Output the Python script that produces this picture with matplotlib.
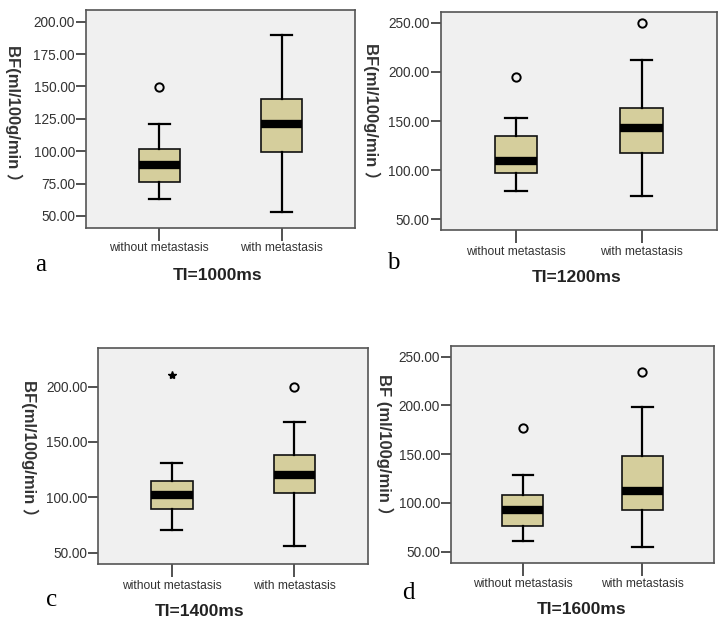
import matplotlib
matplotlib.use("Agg")
import matplotlib.pyplot as plt

plt.rcParams['font.family'] = ['Liberation Sans', 'DejaVu Sans']

W, H = 719, 620

groups = ["without metastasis", "with metastasis"]
panel_letters = ["a", "b", "c", "d"]
panel_titles = ["TI=1000ms", "TI=1200ms", "TI=1400ms", "TI=1600ms"]
y_labels = ["BF(ml/100g/min ）", "BF(ml/100g/min ）",
            "BF(ml/100g/min ）", "BF (ml/100g/min ）"]

# (whisker low, Q1, median, Q3, whisker high) for without / with
stats_a = [(62.9, 76.3, 89.6, 101.7, 120.8), (52.8, 99.1, 121.3, 140.0, 189.5)]
stats_b = [(78.8, 96.8, 109.7, 134.4, 153.1), (73.4, 117.1, 142.9, 163.6, 212.0)]
stats_c = [(70.5, 89.5, 101.8, 114.8, 131.3), (56.3, 104.2, 119.9, 138.3, 168.1)]
stats_d = [(61.3, 76.0, 93.1, 108.5, 128.6), (54.4, 92.4, 111.9, 148.5, 198.0)]

# outliers: (group index, value, marker)
outliers_a = [(0, 149.8, "o")]
outliers_b = [(0, 195.1, "o"), (1, 250.0, "o")]
outliers_c = [(0, 210.5, "*"), (1, 200.0, "o")]
outliers_d = [(0, 176.8, "o"), (1, 233.9, "o")]

y_ticks_a = [50, 75, 100, 125, 150, 175, 200]
y_ticks_b = [50, 100, 150, 200, 250]
y_ticks_c = [50, 100, 150, 200]
y_ticks_d = [50, 100, 150, 200, 250]

panels = [
    dict(stats=stats_a, out=outliers_a, ticks=y_ticks_a, ylim=(40.7, 209.0),
         box=(86, 10, 355, 228), ylab=(14, 117), letter=(41, 265), title=(218, 275), xt=248),
    dict(stats=stats_b, out=outliers_b, ticks=y_ticks_b, ylim=(39.2, 261.2),
         box=(440.7, 11.7, 717, 230), ylab=(372, 115), letter=(393, 263), title=(577, 278), xt=252),
    dict(stats=stats_c, out=outliers_c, ticks=y_ticks_c, ylim=(39.5, 235.2),
         box=(98.3, 347.7, 368, 564.3), ylab=(30, 452), letter=(52, 600), title=(200, 612), xt=586),
    dict(stats=stats_d, out=outliers_d, ticks=y_ticks_d, ylim=(38.7, 260.9),
         box=(451, 346, 714.3, 562.7), ylab=(385, 449), letter=(408, 593), title=(582, 610), xt=584),
]

fig = plt.figure(figsize=(W / 100, H / 100), dpi=100)
fig.patch.set_facecolor("white")

for i, p in enumerate(panels):
    x0, y0, x1, y1 = p["box"]
    ax = fig.add_axes([x0 / W, 1 - y1 / H, (x1 - x0) / W, (y1 - y0) / H])
    ax.set_facecolor("#f0f0f0")

    bxp = []
    for s in p["stats"]:
        bxp.append(dict(whislo=s[0], q1=s[1], med=s[2], q3=s[3], whishi=s[4], fliers=[]))
    ax.bxp(bxp, positions=[1, 2], widths=0.34, patch_artist=True, showfliers=False,
           boxprops=dict(facecolor="#d5ce9c", edgecolor="#111111", linewidth=1.2),
           medianprops=dict(color="black", linewidth=6, solid_capstyle="butt"),
           whiskerprops=dict(color="black", linewidth=1.6),
           capprops=dict(color="black", linewidth=1.6),
           capwidths=0.17)

    for g, v, m in p["out"]:
        if m == "o":
            ax.plot(g + 1, v, marker="o", ms=6, mfc="none", mec="black", mew=1.4)
        else:
            ax.plot(g + 1, v, marker="*", ms=6, color="black")

    ax.set_xlim(0.4, 2.6)
    ax.set_ylim(*p["ylim"])
    ax.set_yticks(p["ticks"])
    ax.set_yticklabels([f"{t:.2f}" for t in p["ticks"]], fontsize=9.8, color="#333333")
    ax.set_xticks([1, 2])
    ax.set_xticklabels([])
    ax.tick_params(axis="y", length=7, width=1.2, color="#333333", pad=1)
    ax.tick_params(axis="x", length=9, width=1.2, color="#333333")
    for sp in ax.spines.values():
        sp.set_color("#555555")
        sp.set_linewidth(1.2)

    # category labels under the ticks
    for k, name in enumerate(groups):
        xf = (x0 + (x1 - x0) * ((k + 1) - 0.4) / 2.2) / W
        fig.text(xf, 1 - p["xt"] / H, name, ha="center", va="center",
                 fontsize=8.7, color="#333333")

    fig.text(p["ylab"][0] / W, 1 - p["ylab"][1] / H, y_labels[i], rotation=270,
             ha="center", va="center", fontsize=12, fontweight="bold", color="#333333",
             family=["Liberation Sans", "Noto Sans CJK SC"])
    fig.text(p["letter"][0] / W, 1 - p["letter"][1] / H, panel_letters[i],
             ha="center", va="center", fontsize=18, family="Liberation Serif")
    fig.text(p["title"][0] / W, 1 - p["title"][1] / H, panel_titles[i],
             ha="center", va="center", fontsize=12.5, fontweight="bold", color="#222222")

fig.savefig("out.png", dpi=100)
